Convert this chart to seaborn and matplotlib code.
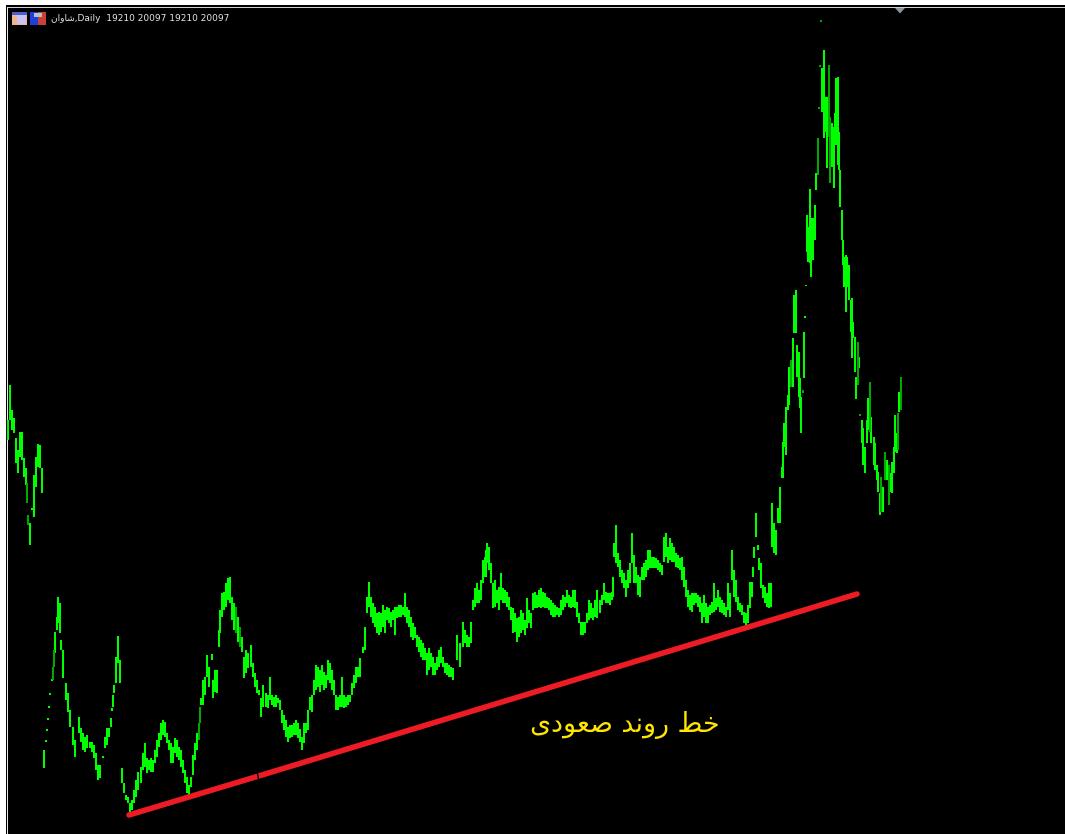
"""
Shavan daily chart with rising trend line - rebuilt by reading bars off the screenshot
Prices are kept in screen units (no price axis is shown on the chart)
"""

import pandas as pd
import matplotlib.pyplot as plt
from matplotlib.patches import Rectangle, Polygon
import seaborn as sns

sns.set_theme(style='dark')
plt.rcParams['font.family'] = ['DejaVu Sans']

# bars of the first stretch, left edge of the chart
x_a = [8, 10, 12, 14, 16, 18, 20, 22, 24, 26, 27, 28, 30, 32, 34, 36, 38, 40, 42]
hi_a = [420, 385, 410, 418, 438, 450, 432, 432, 458, 468, 483, 515, 523, 508, 475, 457, 444, 445, 468]
lo_a = [440, 420, 430, 433, 463, 473, 457, 460, 477, 485, 503, 525, 545, 510, 517, 487, 467, 468, 493]

x_b = [44, 46, 47, 48, 49, 50, 52, 53, 54, 55, 57, 58, 60, 61, 63, 66, 68, 70, 73, 75, 79, 81, 83, 85, 87, 90,
       92, 94, 96, 98, 100, 103, 105, 107, 109, 111, 112, 113, 114, 116, 118, 120]
hi_b = [750, 740, 729, 718, 706, 693, 679, 667, 650, 632, 617, 597, 603, 640, 650, 683, 693, 710, 727, 740, 717,
        728, 733, 737, 735, 742, 742, 745, 753, 765, 765, 756, 737, 728, 728, 718, 708, 695, 685, 657, 636, 660]
lo_b = [768, 742, 731, 720, 708, 695, 681, 680, 667, 653, 630, 623, 633, 650, 678, 700, 712, 727, 745, 757, 733,
        742, 750, 752, 748, 748, 752, 758, 770, 780, 778, 758, 748, 745, 737, 727, 711, 707, 693, 683, 663, 683]

x_c = [122, 124, 126, 128, 130, 132, 134, 136, 138, 141, 143, 145, 147, 149, 151, 153, 155, 157, 159, 161, 163,
       165, 167, 169, 171, 173, 175, 177, 179, 181, 183, 185, 187, 189, 191, 193, 195, 197, 199, 200, 201, 203,
       205, 207, 209, 212, 213, 215, 217, 219, 220, 222, 224, 226, 228, 230, 232, 234, 236, 238, 240, 242, 244,
       246, 248, 251, 253, 255, 257, 259, 261, 263, 266, 268, 270, 272, 274, 276, 278, 280, 282, 284, 286, 288,
       290, 292, 294, 296, 298]
hi_c = [768, 783, 795, 797, 803, 800, 790, 780, 772, 767, 753, 743, 758, 760, 758, 760, 750, 740, 733, 723, 720,
        722, 733, 740, 743, 747, 738, 740, 747, 750, 760, 770, 777, 785, 777, 755, 743, 733, 723, 707, 698, 680,
        677, 655, 667, 654, 680, 670, 670, 630, 610, 593, 592, 583, 578, 577, 597, 603, 607, 617, 627, 637, 657,
        650, 653, 645, 663, 673, 680, 690, 698, 685, 693, 695, 677, 695, 697, 695, 698, 700, 710, 715, 720, 727,
        725, 725, 723, 720, 723]
lo_c = [783, 793, 800, 803, 812, 810, 803, 797, 790, 783, 770, 767, 773, 770, 772, 772, 763, 757, 747, 740, 735,
        737, 743, 750, 763, 763, 753, 757, 760, 767, 773, 783, 793, 795, 787, 775, 760, 750, 740, 723, 705, 705,
        695, 677, 687, 660, 698, 692, 693, 647, 633, 617, 610, 607, 600, 603, 620, 630, 633, 642, 647, 652, 678,
        673, 668, 667, 677, 687, 693, 695, 717, 707, 707, 708, 700, 705, 707, 707, 703, 710, 723, 730, 737, 742,
        738, 737, 735, 735, 738]

x_d = [300, 302, 304, 306, 308, 310, 312, 314, 316, 318, 320, 322, 324, 326, 328, 330, 332, 334, 336, 338, 340,
       342, 344, 346, 348, 350, 352, 354, 356, 358, 360, 363, 365, 367, 369, 371, 373, 375, 377, 379, 381, 383,
       385, 387, 389, 391, 393, 395, 397, 399, 401, 403, 405, 407, 409, 411, 413, 415, 417, 419, 421, 423, 425,
       427, 429, 431, 433, 435, 437, 439, 441, 443, 445, 447, 449, 451, 453]
hi_d = [729, 737, 723, 723, 710, 697, 695, 680, 665, 667, 670, 665, 672, 675, 660, 663, 670, 680, 695, 697, 695,
        677, 695, 697, 695, 695, 683, 675, 667, 667, 658, 647, 627, 597, 582, 597, 603, 607, 613, 612, 613, 605,
        610, 607, 608, 612, 610, 607, 607, 605, 605, 607, 593, 607, 610, 617, 623, 627, 635, 637, 640, 643, 648,
        653, 648, 653, 657, 663, 657, 650, 647, 657, 663, 663, 665, 667, 668]
lo_d = [742, 750, 743, 733, 730, 710, 712, 695, 690, 687, 692, 685, 690, 688, 680, 683, 690, 695, 710, 710, 707,
        707, 708, 707, 705, 702, 695, 688, 683, 677, 677, 653, 650, 613, 607, 617, 623, 627, 633, 635, 632, 627,
        633, 620, 623, 627, 620, 635, 618, 617, 617, 615, 617, 623, 627, 637, 640, 638, 647, 652, 657, 660, 660,
        675, 670, 667, 675, 675, 670, 667, 663, 667, 673, 675, 677, 677, 680]

x_e = [457, 460, 463, 465, 467, 469, 471, 473, 475, 477, 479, 481, 483, 485, 486, 487, 489, 491, 493, 495, 497,
       499, 501, 503, 505, 507, 509, 511, 513, 515, 517, 519, 521, 523, 525, 527, 529, 531, 533, 535, 537, 539,
       541, 543, 545, 547, 549, 551, 553, 555, 557, 559, 561, 563, 565, 567, 569, 571, 573, 575, 577, 579, 581,
       583, 585, 587, 589, 591, 593, 595, 597]
hi_e = [635, 643, 622, 630, 635, 637, 622, 600, 588, 583, 590, 580, 560, 557, 550, 543, 547, 563, 583, 580, 590,
        587, 573, 588, 590, 592, 597, 607, 608, 613, 618, 617, 610, 613, 620, 598, 610, 613, 593, 592, 595, 590,
        588, 592, 593, 597, 598, 600, 603, 605, 607, 608, 600, 595, 597, 590, 595, 597, 590, 590, 602, 613, 622,
        622, 622, 613, 600, 603, 608, 600, 590]
lo_e = [660, 667, 647, 643, 647, 647, 643, 610, 607, 603, 603, 600, 583, 577, 577, 563, 570, 583, 608, 607, 603,
        610, 600, 603, 603, 607, 610, 620, 633, 632, 642, 637, 633, 630, 635, 628, 623, 628, 610, 608, 608, 607,
        608, 607, 608, 608, 610, 615, 617, 617, 615, 617, 615, 610, 607, 603, 607, 608, 607, 608, 617, 623, 635,
        635, 633, 623, 620, 618, 620, 617, 618]

x_f = [600, 602, 604, 606, 608, 610, 612, 613, 614, 616, 618, 620, 622, 624, 626, 628, 630, 632, 634, 636, 638,
       640, 642, 644, 646, 648, 650, 652, 654, 656, 658, 660, 662, 664, 666, 668, 670, 672, 674, 676, 678, 680,
       682, 684, 686, 688, 690, 692, 694, 696, 698, 700, 702, 704, 706, 708, 710, 712, 714, 716, 718, 720, 722,
       724, 726, 728, 730, 732, 734, 736, 738, 740, 742, 744, 746, 748, 750, 752]
hi_f = [600, 595, 583, 592, 593, 593, 592, 577, 543, 525, 553, 560, 570, 573, 580, 570, 563, 533, 555, 567, 575,
        577, 567, 563, 560, 550, 550, 557, 557, 558, 560, 563, 565, 537, 533, 547, 538, 543, 547, 553, 555, 558,
        557, 567, 580, 590, 595, 593, 593, 593, 595, 597, 603, 595, 603, 607, 605, 602, 583, 598, 590, 597, 600,
        603, 607, 583, 593, 550, 570, 580, 597, 603, 605, 612, 613, 605, 582, 582]
lo_f = [613, 605, 600, 603, 603, 605, 600, 597, 557, 563, 567, 577, 583, 588, 597, 588, 583, 563, 583, 583, 595,
        597, 580, 580, 577, 570, 568, 568, 568, 568, 570, 572, 575, 562, 557, 563, 560, 562, 562, 567, 568, 570,
        580, 587, 597, 607, 610, 612, 605, 603, 607, 612, 623, 617, 623, 623, 615, 613, 612, 610, 607, 612, 613,
        615, 617, 610, 617, 580, 597, 602, 610, 612, 615, 623, 625, 623, 608, 597]

# the climb, the spike and the fall at the right end
x_g = [753, 754, 756, 758, 759, 761, 763, 765, 767, 769, 771, 772, 774, 776, 778, 780, 782, 783, 784, 786, 788,
       789, 791, 793, 794, 796, 797, 799, 800, 801, 803, 804, 805, 806]
hi_g = [567, 547, 513, 545, 558, 563, 585, 587, 593, 583, 583, 503, 523, 530, 508, 487, 467, 442, 423, 407, 395,
        367, 360, 338, 295, 290, 345, 352, 378, 397, 390, 332, 316, 285]
lo_g = [577, 558, 537, 550, 570, 588, 598, 603, 607, 608, 607, 547, 553, 555, 523, 523, 478, 478, 447, 455, 410,
        405, 387, 387, 333, 333, 377, 397, 408, 433, 393, 378, 318, 286]

x_h = [807, 808, 810, 811, 813, 815, 816, 818, 819, 820, 821, 822, 823, 824, 826, 827, 829, 830, 832, 834, 835,
       836, 838, 839, 840, 842, 843, 844, 846, 847, 849]
hi_h = [215, 227, 189, 218, 218, 205, 173, 138, 107, 65, 20, 68, 68, 50, 97, 97, 65, 117, 123, 127, 113,
        78, 77, 132, 170, 210, 240, 257, 255, 257, 265]
lo_h = [252, 262, 263, 277, 260, 240, 190, 175, 109, 67, 22, 112, 88, 138, 132, 168, 137, 183, 167, 188, 130,
        145, 165, 170, 207, 240, 265, 287, 312, 287, 300]

x_i = [851, 852, 853, 855, 856, 858, 859, 860, 862, 863, 865, 867, 868, 870, 871, 874, 875, 877, 878, 880, 881,
       883, 885, 887, 889, 891, 892, 894, 895, 897, 898, 899, 901]
hi_i = [300, 298, 322, 337, 377, 342, 357, 414, 420, 428, 447, 420, 398, 382, 417, 437, 443, 465, 472, 493, 477,
        487, 452, 460, 465, 473, 462, 447, 415, 433, 413, 392, 377]
lo_i = [332, 358, 338, 372, 399, 385, 368, 416, 443, 465, 473, 443, 430, 432, 443, 465, 470, 480, 492, 515, 512,
        512, 480, 480, 505, 492, 493, 473, 452, 453, 450, 412, 410]

# bars that look darker in the screenshot
dim_x = [27, 28, 53, 54, 199, 200, 236, 240, 791, 803, 818, 819, 820, 821, 829, 830, 858, 860, 870, 881, 885, 889, 898, 901]

# trend line in two pieces, a hairline break sits between them
trend_x = [129, 258, 258, 857]
trend_y = [815, 776.2, 776.2, 594]
break_x = [257.2, 258.8]
break_y = [772.7, 779.7]

header_name = '\ufee5\ufe8d\ufeed\ufe8e\ufeb7'   # shaped by hand, matplotlib has no arabic shaping
header_rest = ',Daily  19210 20097 19210 20097'
trend_label = '\ufbfc\ufea9\ufeee\ufecc\ufebb \ufeaa\ufee7\ufeed\ufead \ufec2\ufea7'

GREEN = '#00ff00'
DIM_GREEN = '#00a800'
RED = '#ed1c24'
YELLOW = '#ffe600'

bar_x = x_a + x_b + x_c + x_d + x_e + x_f + x_g + x_h + x_i
bar_hi = hi_a + hi_b + hi_c + hi_d + hi_e + hi_f + hi_g + hi_h + hi_i
bar_lo = lo_a + lo_b + lo_c + lo_d + lo_e + lo_f + lo_g + lo_h + lo_i

bars = pd.DataFrame({'bar': range(len(bar_x)), 'x': bar_x, 'hi': bar_hi, 'lo': bar_lo})
bars['tone'] = ['dim' if x in dim_x else 'full' for x in bar_x]
bars = bars.melt(id_vars=['bar', 'x', 'tone'], value_vars=['hi', 'lo'], value_name='price')

fig = plt.figure(figsize=(10.65, 8.34), dpi=100, facecolor='white')
ax = fig.add_axes([0, 0, 1, 1])
ax.set_facecolor('white')
ax.set_xlim(0, 1065)
ax.set_ylim(834, 0)
ax.axis('off')

# terminal window frame
ax.add_patch(Rectangle((6, 5), 1059, 829, color='black', lw=0, zorder=1))
ax.add_patch(Rectangle((7, 7), 1058, 1.2, color='#d0d0d0', lw=0, zorder=1))
ax.add_patch(Rectangle((7, 7), 1.2, 827, color='#e8e8e8', lw=0, zorder=1))
ax.add_patch(Rectangle((8.2, 8.2), 1056.8, 825.8, color='black', lw=0, zorder=1))

# small shift marker at the top
ax.add_patch(Polygon([[895, 8], [905, 8], [900, 13.5]], color='#8a949c', lw=0, zorder=2))

# the two header icons
ax.add_patch(Rectangle((12, 12), 15, 13, color='#f2b48c', lw=0, zorder=2))
ax.add_patch(Rectangle((17, 15), 9, 9, color='#c9c4ef', lw=0, zorder=3))
ax.add_patch(Rectangle((12, 12), 15, 2.5, color='#4a5fd0', lw=0, zorder=3))
ax.add_patch(Rectangle((30, 12), 8, 13, color='#1f3fd8', lw=0, zorder=2))
ax.add_patch(Rectangle((38, 12), 8, 13, color='#c8403a', lw=0, zorder=2))
ax.add_patch(Rectangle((34, 13), 8, 4, color='#b8c0c8', lw=0, zorder=3))

sns.lineplot(data=bars, x='x', y='price', units='bar', estimator=None, hue='tone',
             palette={'full': GREEN, 'dim': DIM_GREEN}, linewidth=1.25, solid_capstyle='butt',
             antialiased=False, ax=ax, zorder=4, legend=False)

ax.plot(trend_x[:2], trend_y[:2], color=RED, lw=4, solid_capstyle='round', zorder=5)
ax.plot(trend_x[2:], trend_y[2:], color=RED, lw=4, solid_capstyle='round', zorder=5)
ax.plot(break_x, break_y, color='black', lw=1, zorder=6)

ax.text(51, 18.5, header_name + header_rest, color='#e6e6e6', fontsize=6.5, va='center', ha='left', zorder=6)
ax.text(624.5, 725, trend_label, color=YELLOW, fontsize=19.4, va='center', ha='center', zorder=6)

ax.set_xlabel('')
ax.set_ylabel('')
fig.savefig('out.png', dpi=100)
plt.close(fig)
